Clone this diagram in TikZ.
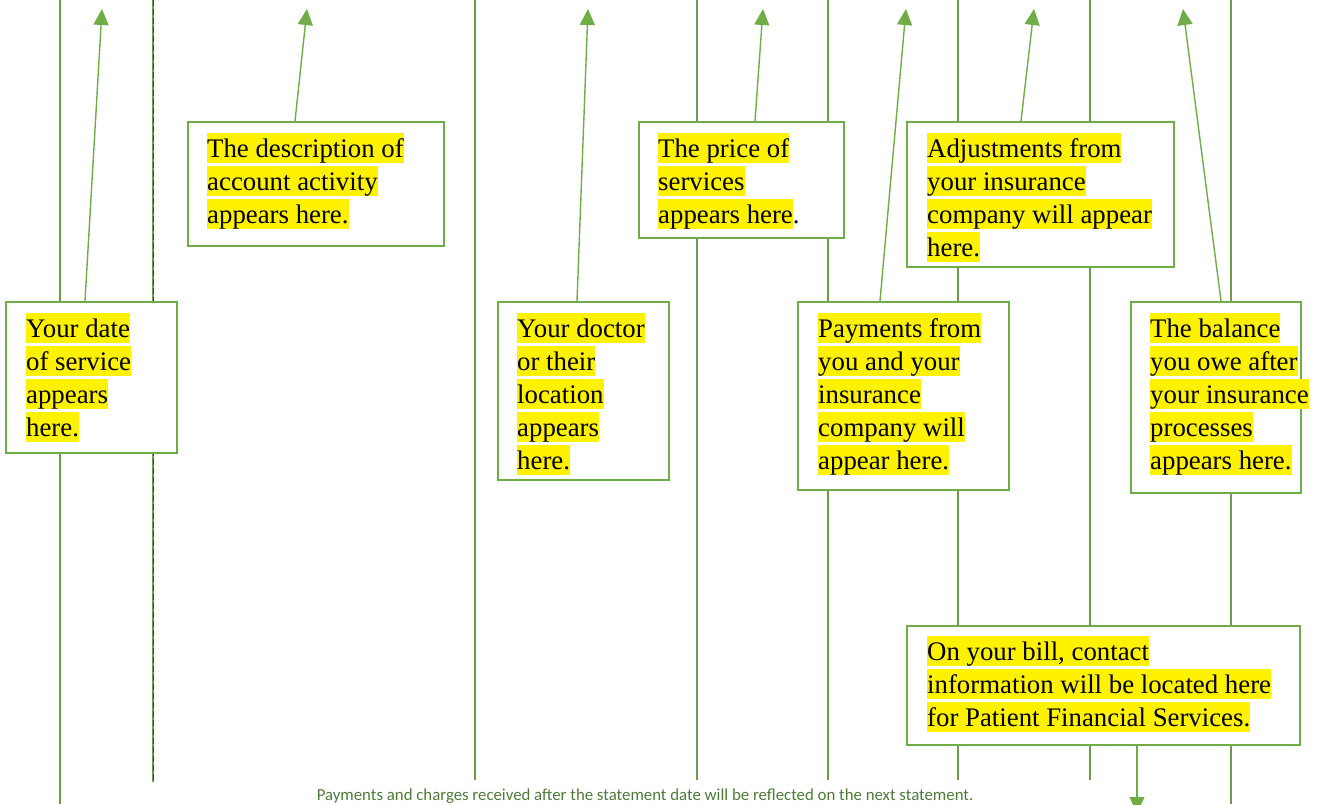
\documentclass[tikz,border=0pt]{standalone}
\usepackage{fontspec}
\setmainfont{Liberation Serif}
\newfontfamily\calib{Carlito}
\usetikzlibrary{arrows.meta}
\definecolor{gr}{HTML}{70AD47}
\definecolor{vl}{HTML}{6E9A50}
\definecolor{foot}{HTML}{4F7A3A}
\definecolor{dsh}{HTML}{2F3F4F}
\newcommand{\hlw}[1]{\colorbox{yellow}{\rule[-6pt]{0pt}{30pt}#1}}
\setlength{\fboxsep}{0pt}
\begin{document}
\begin{tikzpicture}[x=1pt,y=-1pt,
  box/.style={draw=gr,line width=2pt,fill=white,anchor=north west,inner sep=0pt},
  txt/.style={anchor=north west,inner sep=0pt,align=left,font=\fontsize{26.8}{33}\selectfont},
  arr/.style={draw=gr,line width=1.4pt,-{Triangle[length=16pt,width=15pt]}},
  vline/.style={draw=vl,line width=1.1pt}]
\useasboundingbox (0,0) rectangle (1330,804);
\fill[white] (0,0) rectangle (1330,804);

% vertical column lines
\foreach \n/\x/\yb in {1/60/804,3/475/780,4/697/780,5/828/780,6/958/780,7/1090/780,8/1231/804}{
  \coordinate (v\n t) at (\x,0);
  \coordinate (v\n b) at (\x,\yb);
  \draw[vline] (v\n t) -- (v\n b);
}
\coordinate (v2t) at (153,0);
\coordinate (v2b) at (153,782);
\draw[vline] (v2t) -- (v2b);
\draw[dsh,line width=0.9pt,dash pattern=on 6pt off 3pt] (v2t) -- (v2b);

% boxes
\node[box,minimum width=171pt,minimum height=151pt] (b1) at (5,301) {};
\node[txt] (t1) at (26,313) {\hlw{Your date}\\\hlw{of service}\\\hlw{appears}\\\hlw{here.}};

\node[box,minimum width=256pt,minimum height=124pt] (b2) at (187,121) {};
\node[txt] (t2) at (207,133) {\hlw{The description of}\\\hlw{account activity}\\\hlw{appears here.}};

\node[box,minimum width=171pt,minimum height=178pt] (b3) at (497,301) {};
\node[txt] (t3) at (517,313) {\hlw{Your doctor}\\\hlw{or their}\\\hlw{location}\\\hlw{appears}\\\hlw{here.}};

\node[box,minimum width=205pt,minimum height=116pt] (b4) at (638,121) {};
\node[txt] (t4) at (658,133) {\hlw{The price of}\\\hlw{services}\\\hlw{appears here}.};

\node[box,minimum width=267pt,minimum height=145pt] (b5) at (906,121) {};
\node[txt] (t5) at (927,133) {\hlw{Adjustments from}\\\hlw{your insurance}\\\hlw{company will appear}\\\hlw{here.}};

\node[box,minimum width=211pt,minimum height=188pt] (b6) at (797,301) {};
\node[txt] (t6) at (818,313) {\hlw{Payments from}\\\hlw{you and your}\\\hlw{insurance}\\\hlw{company will}\\\hlw{appear here.}};

\node[box,minimum width=170pt,minimum height=191pt] (b7) at (1130,301) {};
\node[txt] (t7) at (1150,313) {\hlw{The balance}\\\hlw{you owe after}\\\hlw{your insurance}\\\hlw{processes}\\\hlw{appears here.}};

\node[box,minimum width=393pt,minimum height=119pt] (b8) at (906,625) {};
\node[txt] (t8) at (927,636) {\hlw{On your bill, contact}\\\hlw{information will be located here}\\\hlw{for Patient Financial Services.}};

% arrow targets
\coordinate (p1) at (102,9);
\coordinate (p2) at (307,9);
\coordinate (p3) at (588,9);
\coordinate (p4) at (763,9);
\coordinate (p5) at (1034,9);
\coordinate (p6) at (906,9);
\coordinate (p7) at (1183,9);
\coordinate (p8) at (1137,813);

\draw[arr] (b1.north west) ++(80,0) -- (p1);
\draw[arr] (b2.north west) ++(108,0) -- (p2);
\draw[arr] (b3.north west) ++(80,0) -- (p3);
\draw[arr] (b4.north west) ++(117,0) -- (p4);
\draw[arr] (b5.north west) ++(115,0) -- (p5);
\draw[arr] (b6.north west) ++(83,0) -- (p6);
\draw[arr] (b7.north west) ++(91,0) -- (p7);
\draw[arr] (b8.south west) ++(231,0) -- (p8);

% footer
\node[font=\calib\fontsize{16.8}{19}\selectfont,text=foot,inner sep=0pt] (foot) at (645,796) {Payments and charges received after the statement date will be reflected on the next statement.};
\end{tikzpicture}
\end{document}
